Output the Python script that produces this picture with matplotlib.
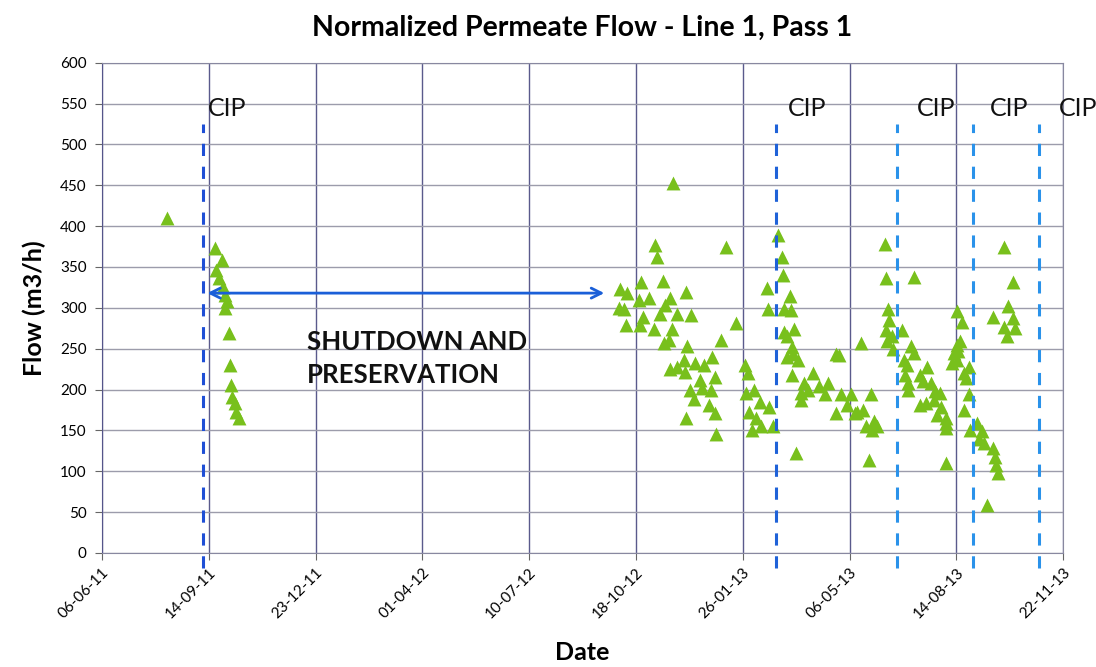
import datetime as dt
import matplotlib
matplotlib.use('Agg')
import matplotlib.pyplot as plt
import matplotlib.dates as mdates

plt.rcParams['font.family'] = ['Lato', 'DejaVu Sans']

# Day offsets counted from 06-06-2011
start = dt.datetime(2011, 6, 6)

days_1 = [61, 106, 112, 107, 110, 113, 115, 117, 115, 119, 120, 121, 122, 125, 126, 128]
flow_1 = [410, 373, 359, 346, 337, 326, 316, 308, 300, 269, 230, 206, 191, 183, 173, 165]

days_2 = [535, 518, 520, 584, 485, 492, 505, 525, 547, 484, 489, 503, 512, 532, 527,
          523, 538, 552, 491, 504, 507, 517, 534, 526, 531, 580, 594, 548, 545, 532,
          538, 546, 555, 564, 571, 560, 574, 551, 562, 570, 554, 568, 574, 547, 575]
flow_2 = [453, 377, 362, 375, 323, 318, 331, 333, 319, 300, 298, 309, 312, 312, 304,
          293, 293, 291, 279, 279, 289, 274, 274, 257, 261, 261, 281, 253, 236, 225,
          228, 222, 232, 230, 240, 212, 215, 200, 202, 199, 189, 181, 171, 165, 146]

days_3 = [633, 637, 638, 623, 644, 624, 639, 645, 639, 648, 641, 646, 641, 652, 647,
          687, 690, 602, 605, 646, 666, 657, 680, 655, 661, 671, 677, 655, 692, 701,
          698, 687, 705, 603, 611, 616, 625, 606, 612, 609, 617, 628, 650]
flow_3 = [389, 362, 340, 324, 314, 298, 298, 297, 270, 274, 265, 252, 240, 236, 244,
          244, 242, 230, 220, 218, 220, 208, 208, 196, 200, 204, 194, 187, 194, 194,
          181, 171, 171, 196, 200, 185, 179, 173, 165, 151, 155, 155, 122]

days_4 = [733, 734, 760, 736, 737, 734, 740, 749, 735, 741, 711, 758, 760, 751, 754,
          773, 752, 766, 769, 755, 776, 755, 780, 779, 766, 772, 786, 782, 790, 790,
          790, 718, 707, 720, 713, 715, 723, 726, 721]
flow_4 = [378, 336, 338, 298, 285, 273, 265, 273, 259, 249, 257, 253, 245, 236, 230,
          228, 218, 218, 210, 208, 208, 200, 198, 187, 181, 183, 179, 169, 165, 153,
          110, 114, 173, 194, 175, 155, 161, 155, 151]

days_5 = [801, 805, 801, 798, 802, 796, 807, 803, 801, 812, 809, 812, 807, 819, 813,
          824, 821, 826, 834, 836, 837, 839, 829, 845, 853, 848, 834, 853, 845, 855,
          847, 785, 790]
flow_5 = [296, 283, 255, 245, 247, 232, 220, 259, 236, 228, 214, 194, 175, 159, 151,
          149, 140, 134, 128, 118, 108, 98, 59, 374, 331, 302, 289, 287, 277, 275,
          266, 196, 159]

cip_days = [95, 631, 744, 816, 877]
cip_colors = ['#1f4fd6', '#1f62d8', '#2a92ea', '#2a92ea', '#2a92ea']
cip_label_days = [99, 642, 763, 831, 896]

tick_days = list(range(0, 901, 100))

days = days_1 + days_2 + days_3 + days_4 + days_5
flow = flow_1 + flow_2 + flow_3 + flow_4 + flow_5
dates = [start + dt.timedelta(days=d) for d in days]

fig = plt.figure(figsize=(10.96, 6.67), dpi=100)
ax = fig.add_axes([0.093, 0.171, 0.877, 0.735])

ax.scatter(dates, flow, marker='^', s=100, color='#78c01c', zorder=3, linewidths=0)

# CIP lines and labels
for d, c, ld in zip(cip_days, cip_colors, cip_label_days):
    x = start + dt.timedelta(days=d)
    ax.plot([x, x], [-18, 525], ls=(0, (4, 3.5)), lw=2.2, color=c, zorder=4, clip_on=False)
    ax.text(start + dt.timedelta(days=ld), 544, 'CIP', fontsize=18, va='center', ha='left',
            color='#111111', clip_on=False)

# shutdown arrow
ax.annotate('', xy=(start + dt.timedelta(days=96), 318), xytext=(start + dt.timedelta(days=473), 318),
            arrowprops=dict(arrowstyle='<->', color='#1a5fd8', lw=2, mutation_scale=18), zorder=5)
ax.text(start + dt.timedelta(days=192), 238, 'SHUTDOWN AND\nPRESERVATION', fontsize=18.5,
        fontweight='bold', ha='left', va='center', color='#111111', linespacing=1.45)

ticks = [start + dt.timedelta(days=d) for d in tick_days]
ax.set_xticks(ticks)
ax.xaxis.set_major_formatter(mdates.DateFormatter('%d-%m-%y'))
ax.set_xlim(ticks[0], ticks[-1])
ax.set_ylim(0, 600)
ax.set_yticks(range(0, 601, 50))
for lab in ax.get_xticklabels():
    lab.set_rotation(45)
    lab.set_ha('right')
    lab.set_rotation_mode('anchor')
ax.tick_params(axis='x', labelsize=11, length=5, color='#666666', pad=4)
ax.tick_params(axis='y', labelsize=11, length=5, color='#666666', pad=6)

ax.xaxis.grid(True, color='#5a5a8c', lw=1)
ax.yaxis.grid(True, color='#9c9cab', lw=1)
ax.set_axisbelow(True)
for s in ax.spines.values():
    s.set_color('#8888a0')
ax.spines['left'].set_color('#55558a')

ax.set_title('Normalized Permeate Flow - Line 1, Pass 1', fontsize=20.5, fontweight='bold', pad=19)
ax.set_ylabel('Flow (m3/h)', fontsize=18, fontweight='bold', labelpad=10)
ax.set_xlabel('Date', fontsize=18, fontweight='bold', labelpad=14)

fig.savefig('out.png', dpi=100)
